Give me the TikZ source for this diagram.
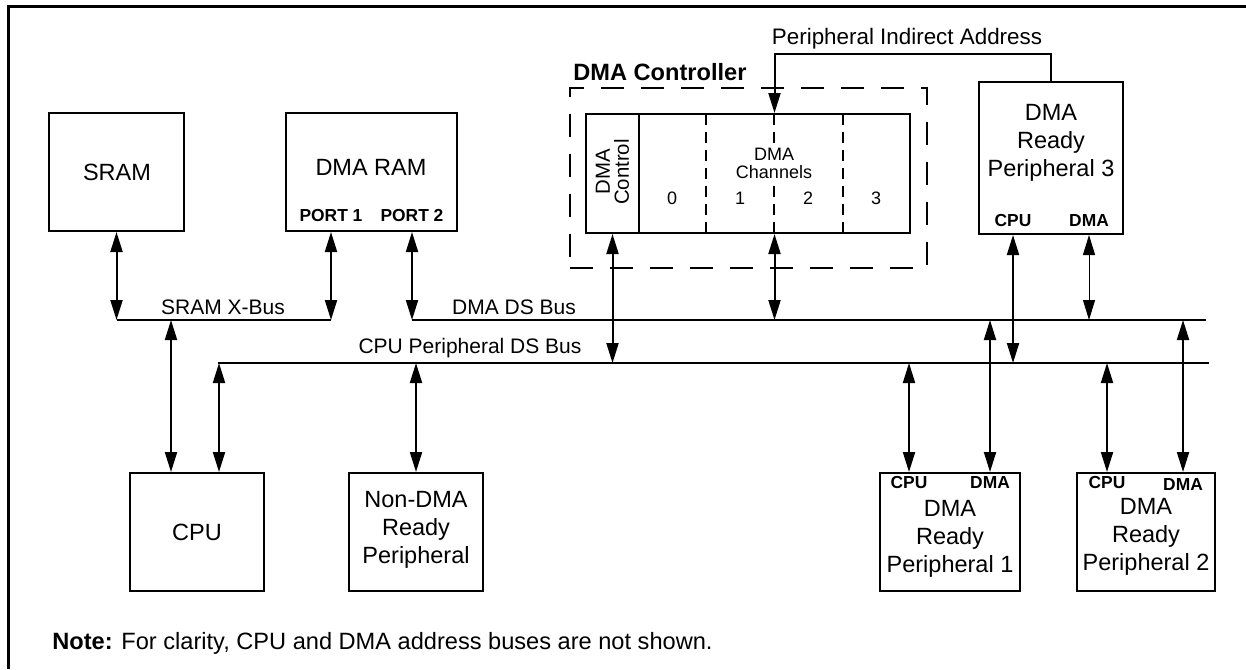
\documentclass[tikz,border=0pt]{standalone}
\usepackage{fontspec}
\setmainfont{Liberation Sans}
\usetikzlibrary{arrows.meta,fit}
\begin{document}
\begin{tikzpicture}[x=0.5pt,y=-0.5pt,
  box/.style={draw, line width=1pt, inner sep=0pt},
  lbl/.style={inner sep=0pt, align=center},
  big/.style={lbl, font=\fontsize{11.75}{14}\selectfont},
  bus/.style={lbl, font=\fontsize{10.5}{12}\selectfont},
  tag/.style={lbl, font=\fontsize{8.7}{10}\selectfont\bfseries},
  chanfont/.style={lbl, font=\fontsize{9}{9}\selectfont},
  buswire/.style={line width=1pt},
  divider/.style={line width=0.8pt, dash pattern=on 5.5pt off 3.5pt},
  dar/.style={line width=1pt, {Triangle[length=10pt,width=6pt]}-{Triangle[length=10pt,width=6pt]}},
  sar/.style={line width=1pt, -{Triangle[length=10pt,width=6pt]}},
]
\useasboundingbox (0,0) rectangle (1246,669);
\draw[line width=1.5pt] (8.5,669) |- (1246,6.5);

% top row
\node[box, fit={(49,113) (184,231)}] (sram) {};
\node[big] (sramt) at (117,172) {SRAM};
\node[box, fit={(286,113) (457,231)}] (dmaram) {};
\node[big] (dmaramt) at (371,167) {DMA RAM};
\node[tag] (port1) at (331,216) {PORT 1};
\node[tag] (port2) at (412,216) {PORT 2};

% DMA controller
\node[draw, line width=1pt, dash pattern=on 11.7pt off 8.3pt, inner sep=0pt, fit={(570,88) (927,268)}] (dmac) {};
\node[inner sep=0pt, anchor=west, font=\fontsize{11.8}{14}\selectfont\bfseries] (dmact) at (573,72) {DMA Controller};
\node[box, fit={(586,114) (639,233)}] (ctrl) {};
\node[box, fit={(639,114) (910,233)}] (chan) {};
\foreach \x in {706,774,843} \draw[divider] (\x,114) -- (\x,233);
\node[lbl, font=\fontsize{10.2}{9.5}\selectfont, rotate=90] (ctrlt) at (612.5,172) {DMA\\Control};
\node[chanfont, fill=white, inner sep=2pt] (chant) at (774,163) {DMA\\Channels};
\node[chanfont] (ch0) at (672,198) {0};
\node[chanfont] (ch1) at (740,198) {1};
\node[chanfont] (ch2) at (808,198) {2};
\node[chanfont] (ch3) at (876,198) {3};

% Peripheral 3
\node[box, fit={(979,82) (1123,234)}] (p3) {};
\node[big] (p3t) at (1051,143) {DMA\\Ready\\Peripheral 3};
\node[tag] (p3cpu) at (1013,221) {CPU};
\node[tag] (p3dma) at (1089,221) {DMA};
\node[lbl, font=\fontsize{11.2}{13}\selectfont] (piat) at (907,39) {Peripheral Indirect Address};
\coordinate (pia) at (774.5,54);
\draw[sar] (p3.north) |- (pia) -- (pia |- chan.north);

% buses
\coordinate (xbL) at (117,320); \coordinate (xbR) at (331,320);
\coordinate (dbL) at (412,320); \coordinate (dbR) at (1206,320);
\coordinate (cbL) at (218,363); \coordinate (cbR) at (1209,363);
\draw[buswire] (xbL) -- (xbR);
\draw[buswire] (dbL) -- (dbR);
\draw[buswire] (cbL) -- (cbR);
\node[bus] (xbt) at (223,307) {SRAM X-Bus};
\node[bus] (dbt) at (514,307) {DMA DS Bus};
\node[bus] (cbt) at (470,348) {CPU Peripheral DS Bus};

% bottom row
\node[box, fit={(130,473) (264,591)}] (cpu) {};
\node[big] (cput) at (197,532) {CPU};
\node[box, fit={(349,473) (483,591)}] (nondma) {};
\node[big] (nondmat) at (416,530) {Non-DMA\\Ready\\Peripheral};
\node[box, fit={(880,473) (1020,591)}] (p1) {};
\node[tag] (p1cpu) at (909,483) {CPU};
\node[tag] (p1dma) at (990,483) {DMA};
\node[big] (p1t) at (950,539) {DMA\\Ready\\Peripheral 1};
\node[box, fit={(1077,473) (1215,591)}] (p2) {};
\node[tag] (p2cpu) at (1107,483) {CPU};
\node[tag] (p2dma) at (1183,485) {DMA};
\node[big] (p2t) at (1146,537) {DMA\\Ready\\Peripheral 2};

\node[anchor=west, inner sep=0pt, font=\fontsize{11.8}{14}\selectfont] (note) at (52,643) {\textbf{Note:} For clarity, CPU and DMA address buses are not shown.};

% connectors
\draw[dar] (sram.south) -- (sram.south |- xbL);
\draw[dar] (port1 |- dmaram.south) -- (port1 |- xbR);
\draw[dar] (port2 |- dmaram.south) -- (port2 |- dbL);
\coordinate (xc) at (171,320);
\draw[dar] (xc) -- (xc |- cpu.north);
\coordinate (cc) at (219,363);
\draw[dar] (cc) -- (cc |- cpu.north);
\draw[dar] (nondma.north) -- (nondma.north |- cbL);
\draw[dar] (ctrl.south) -- (ctrl.south |- cbL);
\draw[dar] (chan.south) -- (chan.south |- dbL);
\draw[dar] (p3cpu |- p3.south) -- (p3cpu |- cbL);
\draw[dar, line width=0.5pt] (p3dma |- p3.south) -- (p3dma |- dbL);
\draw[dar] (p1cpu |- p1.north) -- (p1cpu |- cbL);
\draw[dar] (p1dma |- p1.north) -- (p1dma |- dbL);
\draw[dar] (p2cpu |- p2.north) -- (p2cpu |- cbL);
\draw[dar] (p2dma |- p2.north) -- (p2dma |- dbL);
\end{tikzpicture}
\end{document}
